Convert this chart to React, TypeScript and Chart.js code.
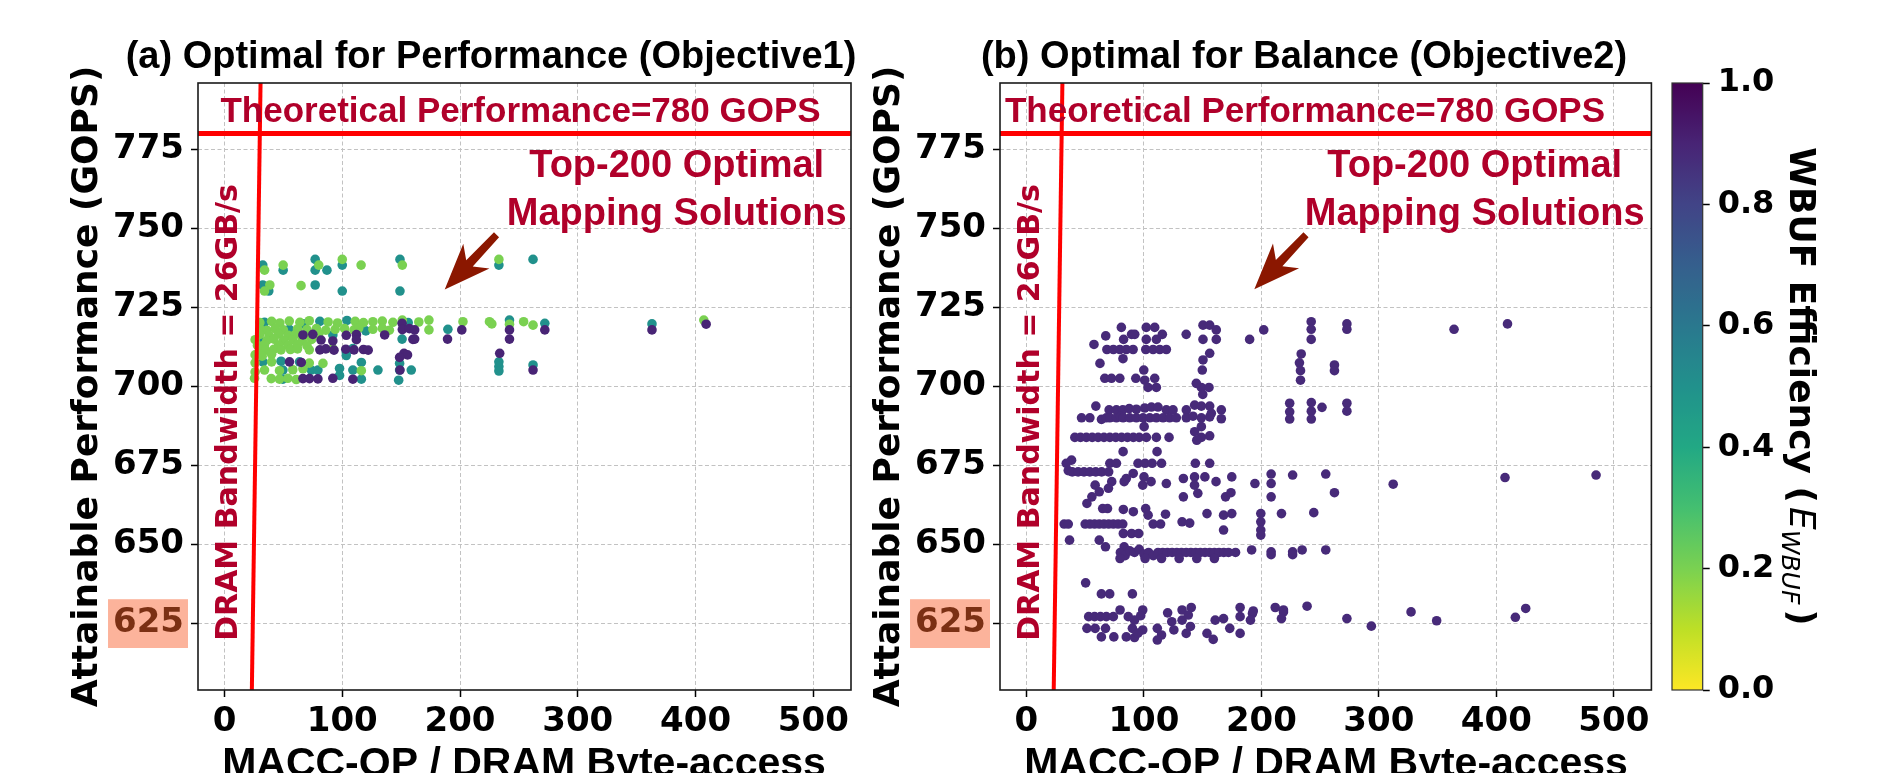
import React, { useEffect, useRef } from 'react';
import { Chart, registerables } from 'chart.js';

Chart.register(...registerables);

const CANVAS_W = 1890;
const CANVAS_H = 773;

// ---- axis definitions ----
const xTicks = [0, 100, 200, 300, 400, 500];
const yTicks = [625, 650, 675, 700, 725, 750, 775];
const colorbarTicks = [0, 0.2, 0.4, 0.6, 0.8, 1.0];
const xLimits = [-22.5, 532];
const yLimits = [604, 796];
const peakPerformance = 780; // GOPS
const dramBandwidth = 26; // GB/s
const highlightedTick = 625;

// ---- texts ----
const panelTitles = ['(a) Optimal for Performance (Objective1)', '(b) Optimal for Balance (Objective2)'];
const xAxisLabel = 'MACC-OP / DRAM Byte-access';
const yAxisLabel = 'Attainable Performance (GOPS)';
const peakLabel = 'Theoretical Performance=780 GOPS';
const bandwidthLabel = 'DRAM Bandwidth = 26GB/s';
const calloutLines = ['Top-200 Optimal', 'Mapping Solutions'];

// ---- data: [MACC-OP / DRAM byte, GOPS, WBUF efficiency] ----
const objective1Points: number[][] = [
  // teal
  [32.5,738.4,.5],[49.8,736.8,.5],[77,740.2,.5],[77,736.8,.5],[87,736.8,.5],[100,738.4,.5],[149,740.2,.5],[233,738.4,.5],[262,740.2,.5],
  [32.5,732.1,.5],[37.6,730.2,.5],[77,732.1,.5],[100,730.2,.5],[149,730.2,.5],
  [34,720.3,.5],[67,719.8,.5],[81,720.6,.5],[104,720.9,.5],[156,720.2,.5],[55,718.1,.5],[120,717.6,.5],[189.7,718.1,.5],[242,721,.5],[272,720,.5],[363,719.8,.5],
  [150.8,715,.5],[92,716.3,.5],[103.4,710.9,.5],[109,712,.5],[103.4,709.8,.5],[32.6,707.8,.5],[48,708,.5],[63.7,707.8,.5],[116.2,707.6,.5],[148.7,707.3,.5],
  [49.6,705.2,.5],[73.7,705.2,.5],[79.3,705.2,.5],[97.7,705.7,.5],[109,705.2,.5],[130.3,705.2,.5],[148.7,705.2,.5],[158.6,705.2,.5],
  [49.6,702.3,.5],[97.7,703.5,.5],[116.2,702.3,.5],[147.9,702,.5],[233,707.8,.5],[233,706.3,.5],[233,704.9,.5],[262,706.8,.5],[30,714.5,.5],
  // green
  [34,736.8,.2],[49.8,738.4,.2],[80,738.4,.2],[100,740.2,.2],[116,738.4,.2],[151,738.4,.2],[233,740.2,.2],[38.5,732.1,.2],[34,730.2,.2],[65,731.9,.2],
  [30,720.2,.2],[40,720.6,.2],[47,720.1,.2],[55,720.7,.2],[64,720.3,.2],[72,720.8,.2],[88,720.4,.2],[96,720.1,.2],[111,720.6,.2],[118,720.2,.2],
  [126,720.5,.2],[134,720.7,.2],[143,720.3,.2],[151,721,.2],[165,720.4,.2],[173.6,721,.2],[173.6,717.9,.2],[202.5,720.5,.2],[225,720.5,.2],[227,719.8,.2],
  [242,719.7,.2],[254,720.5,.2],[262,719.4,.2],[407,721,.2],
  [30,718.2,.2],[36,717.8,.2],[43,718.3,.2],[50,717.9,.2],[62,718.2,.2],[70,718,.2],[78,718.3,.2],[86,717.8,.2],[94,718.1,.2],[102,718.3,.2],
  [110,717.9,.2],[114,718.5,.2],[126,718.1,.2],[134,718.4,.2],[140,717.8,.2],
  [30,716.5,.2],[38,716.2,.2],[46,716.6,.2],[54,716.2,.2],[60,716.4,.2],[72,716.1,.2],[80,716.5,.2],
  [26,714.8,.2],[36,714.6,.2],[42,715,.2],[50,714.5,.2],[58,714.8,.2],[66,714.6,.2],[74,714.9,.2],
  [28,713,.2],[34,713.2,.2],[46,713.1,.2],[54,713,.2],[62,713.3,.2],[70,712.9,.2],
  [30,711.7,.2],[35,711.5,.2],[42,711.8,.2],[48,711.6,.2],[56,711.7,.2],[62,711.9,.2],[72,711.6,.2],[92,711.9,.2],
  [26,710,.2],[32,709.6,.2],[40,710.2,.2],
  [40,707.8,.2],[72,707.4,.2],[83.6,707.3,.2],[26,707.5,.2],
  [34,705.2,.2],[46.7,705,.2],[58,705.3,.2],[66.6,705.6,.2],[116.2,705,.2],[26,704.6,.2],
  [25.5,702.6,.2],[39.7,702.5,.2],[46.7,702.3,.2],[53.8,702.6,.2],[60.9,702.2,.2],
  // purple
  [66.6,716.3,.9],[75,716.5,.9],[103.4,716.2,.9],[112,716.4,.9],[136,716.3,.9],[82,714.7,.9],[92,714.4,.9],[112,714.8,.9],[160,714.9,.9],[161.5,715,.9],
  [189.4,715,.9],[242,715,.9],[150.8,720,.9],[151,718,.9],[157,718.3,.9],[161.5,717.9,.9],[201.5,717.9,.9],[242,717.9,.9],[272,717.9,.9],[363,717.9,.9],
  [409,719.7,.9],[81,711.6,.9],[86,711.9,.9],[93,711.5,.9],[103,711.8,.9],[110,711.6,.9],[118,711.7,.9],[122,711.5,.9],
  [152.4,710.5,.9],[155.4,710,.9],[233.7,710.5,.9],[148.7,709.2,.9],[55.2,707.8,.9],[65.2,707.6,.9],[149,705.2,.9],[262,705.2,.9],
  [66.6,702.5,.9],[72.2,702.5,.9],[79.3,702.4,.9],[92,702.6,.9],[109,702.3,.9],
];

const objective2Points: number[][] = [
  [80.8,718.7,.88],[67.5,716,.88],[57.5,713.3,.88],[62.6,707.3,.88],[82.7,714.9,.88],[89.5,716.5,.88],[92.2,716.5,.88],[82.2,708.8,.88],
  [68.5,711.7,.88],[74,711.7,.88],[79.5,711.7,.88],[85,711.7,.88],[90.8,711.7,.88],[101.6,711.7,.88],[107.8,711.7,.88],[113.5,711.7,.88],[119.1,711.7,.88],
  [102,714.9,.88],[110.6,714.9,.88],[102,718.7,.88],[109.2,718.7,.88],[115.7,716.5,.88],[136,716.5,.88],
  [150.3,719.4,.88],[156,719.4,.88],[161.6,717.9,.88],[150.3,714.9,.88],[161.6,714.9,.88],[156,710.5,.88],[150.3,708.4,.88],[149.7,705.2,.88],
  [148.9,699.7,.88],[155.4,699.7,.88],[150.1,697.5,.88],
  [190,714.9,.88],[202,717.9,.88],[233.9,710.3,.88],[232.4,707.5,.88],[233.3,705,.88],[233.3,702,.88],[242.4,720.5,.88],[242.4,718.1,.88],[242.4,714.9,.88],
  [262.2,706.8,.88],[262.2,705,.88],[272.8,719.8,.88],[272.8,718.1,.88],[364,718.1,.88],[409.5,719.8,.88],
  [66.7,702.6,.88],[72.4,702.6,.88],[79.5,702.6,.88],[93.1,702.6,.88],[99.9,705.2,.88],[100.7,702,.88],[109.2,702.6,.88],[103.5,699.7,.88],[110.6,699.7,.88],[144.6,701,.88],
  [59.1,693.8,.88],[70.4,692.6,.88],[76.6,692.6,.88],[82,692.6,.88],[87.5,693,.88],[93.6,692.8,.88],[100.7,693.2,.88],[106.4,693.5,.88],[112,693.5,.88],
  [119.1,692.6,.88],[124.8,692.6,.88],[136.1,692.6,.88],[143.2,694.1,.88],[148.9,693.8,.88],[156,693.8,.88],[157.4,691.5,.88],[165.9,692.6,.88],
  [224.1,694.7,.88],[224.1,692,.88],[224.1,689.7,.88],[242.5,694.9,.88],[242.5,692.2,.88],[242.5,689.7,.88],[251.6,693.4,.88],[272.8,694.7,.88],[272.8,692.2,.88],
  [46.9,690.1,.88],[54,690.1,.88],[63.9,689.6,.88],[68,690.1,.88],[71,690.1,.88],[76.6,690.1,.88],[80,690.5,.88],[82.3,690.1,.88],[87.9,690.1,.88],
  [93.6,690.1,.88],[99.3,690.1,.88],[105,690.1,.88],[110.6,690.1,.88],[116.3,690.1,.88],[121.9,690.1,.88],[127.6,690.1,.88],[136.1,690.1,.88],
  [141.8,690.6,.88],[148.9,690.1,.88],[156,690.4,.88],[165.9,689.8,.88],[100.2,687.3,.88],[148.9,687.3,.88],
  [41.2,683.9,.88],[46,683.9,.88],[51,683.9,.88],[56,683.9,.88],[61,683.9,.88],[66,683.9,.88],[71,683.9,.88],[76,683.9,.88],[81,683.9,.88],
  [86,683.9,.88],[91,683.9,.88],[96,683.9,.88],[102.1,683.9,.88],[110.6,683.9,.88],[121.4,683.9,.88],[143.2,685.7,.88],[148.9,683.9,.88],
  [156,684.4,.88],[145,683,.88],[82.3,679.4,.88],[111.2,679.4,.88],
  [38.4,676.7,.88],[33.9,675.7,.88],[71,675.7,.88],[76.6,675.7,.88],[95,675.7,.88],[101,675.7,.88],[107,675.7,.88],[115,675.7,.88],[143.8,675.7,.88],[156,675.7,.88],
  [35.6,673.4,.88],[39,673,.88],[44,673,.88],[49,673,.88],[54,673,.88],[59,673,.88],[64,673,.88],[70,673,.88],[90.9,672.5,.88],
  [85,670.9,.88],[100.1,671.4,.88],[106.1,669.9,.88],[99,668.8,.88],[83.2,669.9,.88],[72.6,669.9,.88],[69.8,667.8,.88],[58.5,668.8,.88],[62,666.7,.88],
  [55.7,665.1,.88],[51.5,663,.88],[119.1,669.3,.88],[133.6,670.9,.88],[143.1,671.4,.88],[151.9,671.4,.88],[143.1,668.8,.88],[133.6,665.1,.88],
  [145.9,666.2,.88],[161.4,669.9,.88],[174.8,671.4,.88],[169.5,665.1,.88],[174.1,666.4,.88],[194.5,669.3,.88],[208.3,672.3,.88],[208.3,669.3,.88],
  [208.3,665.1,.88],[226.6,672,.88],[254.8,672.3,.88],[262.2,666.4,.88],[312.2,669.1,.88],[407.4,671.2,.88],[484.9,672,.88],
  [64.9,661.4,.88],[69,661.4,.88],[82.5,661.1,.88],[91,660.4,.88],[101.5,661.4,.88],[103.6,659.3,.88],[118.4,659.6,.88],[153.7,659.8,.88],
  [167.8,659.3,.88],[174.8,659.8,.88],[199.5,659.8,.88],[199.5,657.2,.88],[217.1,659.8,.88],[244.6,660.1,.88],
  [32.1,656.5,.88],[35.6,656.5,.88],[50,656.5,.88],[54,656.5,.88],[58,656.5,.88],[62,656.5,.88],[66,656.5,.88],[70,656.5,.88],[74,656.5,.88],
  [78,656.5,.88],[82,656.5,.88],[107.9,656.5,.88],[114.2,656.5,.88],[132.5,657.2,.88],[139,656.8,.88],[167.8,654.6,.88],[199.5,654.6,.88],
  [199.5,653,.88],[82.5,653.5,.88],[89.5,653.5,.88],[95.5,653.5,.88],[36.7,651.4,.88],[62,651.4,.88],[67.3,649.3,.88],[83.2,649.3,.88],
  [80,647.5,.88],[84,646.5,.88],[88,648,.88],[92,647.5,.88],[96,648.5,.88],[100,647,.88],[104,647.5,.88],[108,646.5,.88],[112,647.5,.88],
  [116,647.5,.88],[120,647.5,.88],[124,647.5,.88],[128,647.5,.88],[132,647.5,.88],[136,647.5,.88],[140,647.5,.88],[144,647.5,.88],[148,647.5,.88],
  [152,647.5,.88],[156,647.5,.88],[160,647.5,.88],[164,647.5,.88],[168,647.5,.88],[172,647.5,.88],[178,647.5,.88],[191.7,648.3,.88],
  [208.3,647.7,.88],[208.3,646.8,.88],[226.6,647.7,.88],[226.6,646.8,.88],[234.7,648.3,.88],[254.8,648.3,.88],
  [79.7,645.6,.88],[101,645.6,.88],[115,645.6,.88],[130,645.6,.88],[145,645.6,.88],[160,645.6,.88],
  [50.4,637.9,.88],[63.8,634.4,.88],[70.9,634.4,.88],[90.2,634.4,.88],
  [79.7,629.3,.88],[99,629.3,.88],[120.2,628.4,.88],[132.5,629.3,.88],[140.3,630.1,.88],[181.9,630.1,.88],[192.4,628.2,.88],[211.8,630.1,.88],
  [218.8,628.7,.88],[238.9,630.5,.88],[272.8,626.6,.88],[293.6,624.2,.88],[327.4,628.7,.88],[349.2,625.9,.88],[416.2,627,.88],[425,629.8,.88],
  [53,627.2,.88],[58,627.2,.88],[63,627.2,.88],[68,627.2,.88],[74,627.2,.88],[51.5,623.5,.88],[58.5,623.5,.88],[67.3,623.5,.88],[63.8,620.8,.88],[74.4,620.8,.88],
  [86.7,627.2,.88],[92,626.1,.88],[97.3,627.5,.88],[90.2,623.5,.88],[99,623,.88],[85,620.8,.88],[92,620.6,.88],[95,622,.88],
  [111.4,623.5,.88],[115,621.4,.88],[111.4,619.8,.88],[123.7,625.6,.88],[125.5,623,.88],[132.5,626.1,.88],[137.8,627.7,.88],[139.6,624.1,.88],[136,621.9,.88],
  [153.7,621.9,.88],[159,620,.88],[160.7,626.1,.88],[167.8,626.6,.88],[173.1,623.5,.88],[181.9,621.9,.88],[181.9,627.2,.88],[190.7,626.1,.88],
  [193.1,629,.88],[217.1,626.6,.88],[218.8,629.3,.88],
];

// ---- styling ----
const VIRIDIS = ['#440154', '#482475', '#414487', '#355f8d', '#2a788e', '#21918c', '#22a884', '#44bf70', '#7ad151', '#bddf26', '#fde725'];
function hexToRgb(h: string) {
  return [parseInt(h.slice(1, 3), 16), parseInt(h.slice(3, 5), 16), parseInt(h.slice(5, 7), 16)];
}
function viridis(t: number) {
  const c = Math.max(0, Math.min(1, t)) * 10;
  const i = Math.min(9, Math.floor(c));
  const f = c - i;
  const a = hexToRgb(VIRIDIS[i]);
  const b = hexToRgb(VIRIDIS[i + 1]);
  const m = a.map((v, k) => Math.round(v + (b[k] - v) * f));
  return `rgb(${m[0]},${m[1]},${m[2]})`;
}
// colorbar is reversed viridis: 1.0 -> dark purple, 0.0 -> yellow
const effColor = (e: number) => viridis(1 - e);

const DARK_RED = '#b0002a';
const LINE_RED = '#ff0000';
const ARROW_RED = '#8b1700';
const GRID = '#c2c2c2';
const TICK_FONT = { family: '"DejaVu Sans", sans-serif', size: 34, weight: 'bold' as const };

const PLOT_TOP = 83;
const PLOT_BOTTOM = 690;
const PANELS = [
  { left: 198, right: 851, titleX: 491, yLabelX: 97, xLabelX: 524, peakTextX: -3.4, calloutX: 384, arrowFrom: [231, 748], arrowTo: [187, 730.7] },
  { left: 1000, right: 1651.4, titleX: 1304, yLabelX: 899, xLabelX: 1326, peakTextX: -18.3, calloutX: 381.6, arrowFrom: [238, 748], arrowTo: [194, 730.8] },
];
const CB = { left: 1672, right: 1702.7, labelX: 1790 };

function drawArrow(ctx: CanvasRenderingContext2D, x0: number, y0: number, x1: number, y1: number) {
  const dx = x1 - x0, dy = y1 - y0, L = Math.hypot(dx, dy);
  const ux = dx / L, uy = dy / L, nx = -uy, ny = ux;
  const headLen = 46, neck = 36, headHalf = 18, shaftHalf = 4.5, tailHalf = 3.5;
  const bx = x1 - ux * headLen, by = y1 - uy * headLen;
  const jx = x1 - ux * neck, jy = y1 - uy * neck;
  ctx.beginPath();
  ctx.moveTo(x0 + nx * tailHalf, y0 + ny * tailHalf);
  ctx.lineTo(jx + nx * shaftHalf, jy + ny * shaftHalf);
  ctx.lineTo(bx + nx * headHalf, by + ny * headHalf);
  ctx.lineTo(x1, y1);
  ctx.lineTo(bx - nx * headHalf, by - ny * headHalf);
  ctx.lineTo(jx - nx * shaftHalf, jy - ny * shaftHalf);
  ctx.lineTo(x0 - nx * tailHalf, y0 - ny * tailHalf);
  ctx.closePath();
  ctx.fill();
}

function makePanel(canvas: HTMLCanvasElement, idx: number, points: number[][]) {
  const p = PANELS[idx];
  const deco = {
    id: 'panelDeco' + idx,
    afterDatasetsDraw(chart: any) {
      const { ctx, chartArea: a, scales } = chart;
      const xs = scales.x, ys = scales.y;
      ctx.save();
      ctx.setLineDash([]);
      // peak label
      ctx.fillStyle = DARK_RED;
      ctx.font = 'bold 35px "Liberation Sans", Arial, sans-serif';
      ctx.textAlign = 'left';
      ctx.textBaseline = 'alphabetic';
      ctx.fillText(peakLabel, xs.getPixelForValue(p.peakTextX), ys.getPixelForValue(783.8));
      // callout
      ctx.font = 'bold 38px "Liberation Sans", Arial, sans-serif';
      ctx.textAlign = 'center';
      ctx.fillText(calloutLines[0], xs.getPixelForValue(p.calloutX), ys.getPixelForValue(766.3));
      ctx.fillText(calloutLines[1], xs.getPixelForValue(p.calloutX), ys.getPixelForValue(751.1));
      // arrow
      ctx.fillStyle = ARROW_RED;
      drawArrow(ctx, xs.getPixelForValue(p.arrowFrom[0]), ys.getPixelForValue(p.arrowFrom[1]),
        xs.getPixelForValue(p.arrowTo[0]), ys.getPixelForValue(p.arrowTo[1]));
      // bandwidth label
      ctx.fillStyle = DARK_RED;
      ctx.font = 'bold 30px "DejaVu Sans", sans-serif';
      ctx.translate(xs.getPixelForValue(11), (a.top + a.bottom) / 2 + 26);
      ctx.rotate(-Math.PI / 2);
      ctx.textAlign = 'center';
      ctx.fillText(bandwidthLabel, 0, 0);
      ctx.restore();
      // frame
      ctx.save();
      ctx.strokeStyle = '#1a1a1a';
      ctx.lineWidth = 1.6;
      ctx.strokeRect(a.left, a.top, a.right - a.left, a.bottom - a.top);
      ctx.restore();
    },
    afterDraw(chart: any) {
      const { ctx, chartArea: a } = chart;
      ctx.save();
      ctx.fillStyle = '#000';
      ctx.font = 'bold 38px "Liberation Sans", Arial, sans-serif';
      ctx.textAlign = 'center';
      ctx.textBaseline = 'alphabetic';
      ctx.fillText(panelTitles[idx], p.titleX, 68);
      ctx.font = 'bold 41px "Liberation Sans", Arial, sans-serif';
      ctx.fillText(xAxisLabel, p.xLabelX, 776);
      ctx.font = 'bold 36px "DejaVu Sans", sans-serif';
      ctx.translate(p.yLabelX, (a.top + a.bottom) / 2);
      ctx.rotate(-Math.PI / 2);
      ctx.fillText(yAxisLabel, 0, 0);
      ctx.restore();
    },
  };

  return new Chart(canvas, {
    type: 'scatter',
    data: {
      datasets: [
        {
          type: 'line',
          data: [{ x: yLimits[0] / dramBandwidth, y: yLimits[0] }, { x: yLimits[1] / dramBandwidth, y: yLimits[1] }],
          borderColor: LINE_RED, borderWidth: 4, pointRadius: 0, order: 0,
        } as any,
        {
          type: 'line',
          data: [{ x: xLimits[0], y: peakPerformance }, { x: xLimits[1], y: peakPerformance }],
          borderColor: LINE_RED, borderWidth: 5, pointRadius: 0, order: 0,
        } as any,
        {
          type: 'scatter',
          data: points.map(([x, y]) => ({ x, y })),
          pointBackgroundColor: points.map((pt) => effColor(pt[2])),
          pointBorderWidth: 0,
          pointRadius: 4.8,
          order: 1,
        } as any,
      ],
    },
    options: {
      responsive: false,
      animation: false,
      devicePixelRatio: 1,
      events: [],
      layout: { padding: { left: 0, right: CANVAS_W - p.right, top: PLOT_TOP, bottom: 0 } },
      plugins: { legend: { display: false }, tooltip: { enabled: false }, title: { display: false } },
      scales: {
        x: {
          type: 'linear',
          min: xLimits[0],
          max: xLimits[1],
          afterBuildTicks: (s: any) => { s.ticks = xTicks.map((v) => ({ value: v })); },
          afterFit: (s: any) => { s.height = CANVAS_H - PLOT_BOTTOM; },
          ticks: { font: TICK_FONT, color: '#000', padding: 5, maxRotation: 0, autoSkip: false, callback: (v: any) => String(v) },
          grid: { color: GRID, lineWidth: 1, tickColor: '#000', tickLength: 7, tickWidth: 1.5 },
          border: { display: false, dash: [4, 2.5] },
        },
        y: {
          type: 'linear',
          min: yLimits[0],
          max: yLimits[1],
          afterBuildTicks: (s: any) => { s.ticks = yTicks.map((v) => ({ value: v })); },
          afterFit: (s: any) => { s.width = p.left; },
          ticks: {
            font: TICK_FONT,
            color: (c: any) => (c.tick && c.tick.value === highlightedTick ? '#7b3014' : '#000'),
            padding: 7,
            autoSkip: false,
            callback: (v: any) => String(v),
            showLabelBackdrop: (c: any) => !!(c.tick && c.tick.value === highlightedTick),
            backdropColor: '#fcb39b',
            backdropPadding: { left: 5, right: 4, top: 4, bottom: 4 },
          },
          grid: { color: GRID, lineWidth: 1, tickColor: '#000', tickLength: 7, tickWidth: 1.5 },
          border: { display: false, dash: [4, 2.5] },
        },
      },
    } as any,
    plugins: [deco],
  });
}

function makeColorbar(canvas: HTMLCanvasElement) {
  const deco = {
    id: 'colorbarDeco',
    beforeDatasetsDraw(chart: any) {
      const { ctx, chartArea: a, scales } = chart;
      const ys = scales.y;
      const g = ctx.createLinearGradient(0, a.bottom, 0, a.top);
      for (let k = 0; k <= 50; k++) {
        const v = k / 50;
        g.addColorStop((ys.getPixelForValue(v) - a.bottom) / (a.top - a.bottom), effColor(v));
      }
      ctx.save();
      ctx.fillStyle = g;
      ctx.fillRect(a.left, a.top, a.right - a.left, a.bottom - a.top);
      ctx.strokeStyle = '#333';
      ctx.lineWidth = 1.2;
      ctx.strokeRect(a.left, a.top, a.right - a.left, a.bottom - a.top);
      ctx.restore();
    },
    afterDraw(chart: any) {
      const { ctx, chartArea: a } = chart;
      const parts = [
        { text: 'WBUF Efficiency (', font: 'bold 36px "DejaVu Sans", sans-serif', shift: 0, gap: 4 },
        { text: 'E', font: 'oblique 36px "DejaVu Sans", sans-serif', shift: 0, gap: 0 },
        { text: 'WBUF', font: 'oblique 25px "DejaVu Sans", sans-serif', shift: 8, gap: 5 },
        { text: ')', font: 'bold 36px "DejaVu Sans", sans-serif', shift: 0, gap: 0 },
      ];
      ctx.save();
      ctx.fillStyle = '#000';
      ctx.textBaseline = 'alphabetic';
      ctx.textAlign = 'left';
      let total = 0;
      for (const pt of parts) { ctx.font = pt.font; total += ctx.measureText(pt.text).width + pt.gap; }
      ctx.translate(CB.labelX, (a.top + a.bottom) / 2);
      ctx.rotate(Math.PI / 2);
      let x = -total / 2;
      for (const pt of parts) {
        ctx.font = pt.font;
        ctx.fillText(pt.text, x, pt.shift);
        x += ctx.measureText(pt.text).width + pt.gap;
      }
      ctx.restore();
    },
  };
  return new Chart(canvas, {
    type: 'scatter',
    data: { datasets: [] },
    options: {
      responsive: false,
      animation: false,
      devicePixelRatio: 1,
      events: [],
      layout: { padding: { left: CB.left, right: 0, top: PLOT_TOP, bottom: CANVAS_H - PLOT_BOTTOM } },
      plugins: { legend: { display: false }, tooltip: { enabled: false } },
      scales: {
        x: { type: 'linear', display: false, min: 0, max: 1 },
        y: {
          type: 'linear',
          position: 'right',
          min: 0,
          max: 1,
          afterBuildTicks: (s: any) => { s.ticks = colorbarTicks.map((v) => ({ value: v })); },
          afterFit: (s: any) => { s.width = CANVAS_W - CB.right; },
          ticks: { font: { family: '"DejaVu Sans", sans-serif', size: 32, weight: 'bold' }, color: '#000', padding: 8, callback: (v: any) => Number(v).toFixed(1) },
          grid: { drawOnChartArea: false, tickColor: '#000', tickLength: 7, tickWidth: 1.5 },
          border: { display: false },
        },
      },
    } as any,
    plugins: [deco],
  });
}

export default function App() {
  const leftRef = useRef<HTMLCanvasElement>(null);
  const rightRef = useRef<HTMLCanvasElement>(null);
  const cbRef = useRef<HTMLCanvasElement>(null);

  useEffect(() => {
    const charts: Chart[] = [];
    if (leftRef.current) charts.push(makePanel(leftRef.current, 0, objective1Points));
    if (rightRef.current) charts.push(makePanel(rightRef.current, 1, objective2Points));
    if (cbRef.current) charts.push(makeColorbar(cbRef.current));
    return () => charts.forEach((c) => c.destroy());
  }, []);

  const canvasStyle: React.CSSProperties = { position: 'absolute', left: 0, top: 0, width: CANVAS_W, height: CANVAS_H };
  return (
    <div style={{ position: 'fixed', left: 0, top: 0, width: CANVAS_W, height: CANVAS_H, background: '#fff', overflow: 'hidden' }}>
      <canvas ref={leftRef} width={CANVAS_W} height={CANVAS_H} style={canvasStyle} />
      <canvas ref={rightRef} width={CANVAS_W} height={CANVAS_H} style={canvasStyle} />
      <canvas ref={cbRef} width={CANVAS_W} height={CANVAS_H} style={canvasStyle} />
    </div>
  );
}
